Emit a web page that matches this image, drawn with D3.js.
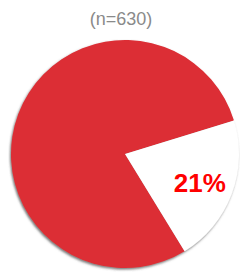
<!DOCTYPE html>
<html>
<head>
<meta charset="utf-8">
<script src="https://cdn.jsdelivr.net/npm/d3@7"></script>
<style>
  body { margin: 0; background: #fff; }
  svg { display: block; }
</style>
</head>
<body>
<svg id="chart" width="242" height="272"></svg>
<script>
// data
const categories = ["Other", "Yes"];
const shares = [79, 21];
const sliceColors = ["#dc2e35", "#ffffff"];
const title = "(n=630)";

const svg = d3.select("#chart");
const cx = 125, cy = 154, radius = 114;

const defs = svg.append("defs");
const shadow = defs.append("filter")
  .attr("id", "shadow")
  .attr("x", "-10%").attr("y", "-10%")
  .attr("width", "120%").attr("height", "120%");
shadow.append("feDropShadow")
  .attr("dx", -1).attr("dy", 1.5)
  .attr("stdDeviation", 0.8)
  .attr("flood-color", "#555")
  .attr("flood-opacity", 0.8);

svg.append("text")
  .attr("x", 121)
  .attr("y", 25)
  .attr("text-anchor", "middle")
  .style("font-family", "Liberation Sans, Arial, sans-serif")
  .style("font-size", "18px")
  .style("fill", "#8a8a8a")
  .text(title);

const pie = d3.pie()
  .sort(null)
  .startAngle(148.5 * Math.PI / 180)
  .endAngle((148.5 + 360) * Math.PI / 180);

const arc = d3.arc().innerRadius(0).outerRadius(radius);
const labelArc = d3.arc().innerRadius(80).outerRadius(80);

const g = svg.append("g")
  .attr("transform", "translate(" + cx + "," + cy + ")");

const arcs = pie(shares);

g.append("g")
  .attr("filter", "url(#shadow)")
  .selectAll("path")
  .data(arcs)
  .enter()
  .append("path")
  .attr("d", arc)
  .attr("fill", function (d, i) { return sliceColors[i]; });

// only the small slice carries a label
g.append("text")
  .datum(arcs[1])
  .attr("transform", function (d) {
    const c = labelArc.centroid(d);
    return "translate(" + c[0] + "," + c[1] + ")";
  })
  .attr("text-anchor", "middle")
  .attr("dy", "0.36em")
  .style("font-family", "Liberation Sans, Arial, sans-serif")
  .style("font-weight", "bold")
  .style("font-size", "26px")
  .style("fill", "#ff0000")
  .text(function (d) { return d.data + "%"; });
</script>
</body>
</html>
